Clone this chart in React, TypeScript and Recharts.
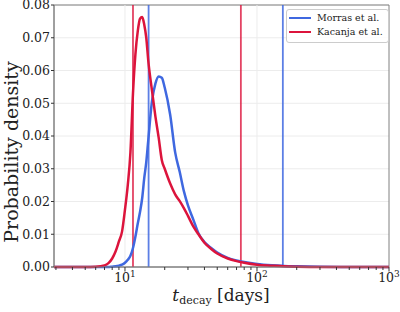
import React from "react";
import {
  LineChart,
  Line,
  XAxis,
  YAxis,
  CartesianGrid,
  ReferenceLine,
  ReferenceArea,
  Legend,
} from "recharts";

// decay time samples (days) and the two densities
const tDays = [
  2.9, 5, 6, 7, 7.5, 8, 8.5, 9, 9.5, 10, 10.5, 11, 11.5, 12, 12.5, 13, 13.5, 14,
  14.5, 15, 16, 17, 18, 19, 20, 22, 24, 26, 28, 30, 33, 36, 40, 45, 50, 60, 70,
  80, 100, 130, 160, 200, 300, 500, 1000,
];
const morras = [
  0, 0, 0, 0, 0, 0.0001, 0.0002, 0.0004, 0.0007, 0.0013, 0.0022, 0.0034, 0.0058,
  0.0093, 0.0133, 0.0168, 0.021, 0.0272, 0.032, 0.0385, 0.0505, 0.056, 0.0582,
  0.0578, 0.0548, 0.0465, 0.035, 0.029, 0.023, 0.0188, 0.0144, 0.0103, 0.0076,
  0.0058, 0.0044, 0.0028, 0.002, 0.0015, 0.0009, 0.0005, 0.0003, 0.0002, 0.0001,
  0.00002, 0,
];
const kacanja = [
  0, 0, 0.0001, 0.0005, 0.0012, 0.0026, 0.0048, 0.0078, 0.0108, 0.0175, 0.025,
  0.035, 0.053, 0.065, 0.072, 0.0758, 0.0763, 0.074, 0.07, 0.0632, 0.054, 0.046,
  0.0395, 0.0327, 0.03, 0.0255, 0.0222, 0.0201, 0.0179, 0.0156, 0.0123, 0.01,
  0.0074, 0.0055, 0.0041, 0.0026, 0.0018, 0.0013, 0.0007, 0.0004, 0.0002,
  0.0001, 0.00003, 0, 0,
];

// vertical interval markers
const morrasBounds = [15.1, 157];
const kacanjaBounds = [11.5, 75.5];

const xTicks = [
  3, 4, 5, 6, 7, 8, 9, 10, 20, 30, 40, 50, 60, 70, 80, 90, 100, 200, 300, 400,
  500, 600, 700, 800, 900, 1000,
];
const majorTicks = [10, 100, 1000];
const yTicks = [0, 0.01, 0.02, 0.03, 0.04, 0.05, 0.06, 0.07, 0.08];

const BLUE = "#3f68e0";
const RED = "#dc143c";
const FONT = "DejaVu Serif";

const data = tDays.map((t, i) => ({ t, morras: morras[i], kacanja: kacanja[i] }));

const XTick = (props: any) => {
  const { x, y, payload } = props;
  const v = payload.value;
  const major = majorTicks.includes(v);
  return (
    <g>
      <line x1={x} x2={x} y1={y} y2={y + (major ? 4.5 : 3)} stroke="#333" />
      {major && (
        <text x={x} y={y + 15} textAnchor="middle" fontFamily={FONT} fontSize={12.5} fill="#222">
          10
          <tspan dy={-5} fontSize={9}>
            {Math.round(Math.log10(v))}
          </tspan>
        </text>
      )}
    </g>
  );
};

const renderLegend = () => (
  <div
    style={{
      border: "1px solid #ccc",
      borderRadius: 3,
      background: "rgba(255,255,255,0.85)",
      padding: "1px 5px 3px 2px",
      fontFamily: FONT,
      fontSize: 9.5,
      color: "#222",
      lineHeight: "14px",
      whiteSpace: "nowrap",
    }}
  >
    {[
      { name: "Morras et al.", color: BLUE },
      { name: "Kacanja et al.", color: RED },
    ].map((e) => (
      <div key={e.name} style={{ display: "flex", alignItems: "center" }}>
        <span style={{ display: "inline-block", width: 22, height: 2.5, background: e.color, marginRight: 6 }} />
        {e.name}
      </div>
    ))}
  </div>
);

export default function App() {
  return (
    <div style={{ position: "absolute", left: 0, top: 0 }}>
      <LineChart width={400} height={312} data={data} margin={{ top: 5, right: 11, bottom: 0, left: 0 }}>
        <CartesianGrid vertical={false} stroke="#ececec" />
        <ReferenceLine x={10} stroke="#ececec" />
        <ReferenceLine x={100} stroke="#ececec" />
        <XAxis
          dataKey="t"
          type="number"
          scale="log"
          domain={[2.9, 1000]}
          allowDataOverflow
          ticks={xTicks}
          interval={0}
          tickSize={0}
          tickMargin={0}
          tickLine={false}
          tick={<XTick />}
          height={45}
          axisLine={{ stroke: "#808080" }}
          label={{
            content: () => (
              <text x={221} y={301} textAnchor="middle" fontFamily={FONT} fontSize={17} fill="#222">
                <tspan fontStyle="italic">t</tspan>
                <tspan dy={3} fontSize={11}>decay</tspan>
                <tspan dy={-3}> [days]</tspan>
              </text>
            ),
          }}
        />
        <YAxis
          type="number"
          domain={[0, 0.08]}
          ticks={yTicks}
          interval={0}
          width={54}
          tickSize={3}
          tickMargin={1}
          tickFormatter={(v: number) => v.toFixed(2)}
          tick={{ fontFamily: FONT, fontSize: 12.5, fill: "#222" }}
          tickLine={{ stroke: "#333" }}
          axisLine={{ stroke: "#808080" }}
          label={{
            content: () => (
              <text
                x={13}
                y={152}
                transform="rotate(-90 13 152)"
                textAnchor="middle"
                dominantBaseline="middle"
                fontFamily={FONT}
                fontSize={19}
                fill="#222"
              >
                Probability density
              </text>
            ),
          }}
        />
        <ReferenceArea x1={2.9} x2={1000} y1={0} y2={0.08} fill="none" stroke="#808080" />
        {morrasBounds.map((b) => (
          <ReferenceLine key={"m" + b} x={b} stroke={BLUE} strokeWidth={1.8} strokeOpacity={0.85} />
        ))}
        {kacanjaBounds.map((b) => (
          <ReferenceLine key={"k" + b} x={b} stroke={RED} strokeWidth={1.8} strokeOpacity={0.8} />
        ))}
        <Line
          type="monotone"
          dataKey="morras"
          stroke={BLUE}
          strokeWidth={2.5}
          dot={false}
          isAnimationActive={false}
        />
        <Line
          type="monotone"
          dataKey="kacanja"
          stroke={RED}
          strokeWidth={2.5}
          dot={false}
          isAnimationActive={false}
        />
        <Legend
          layout="vertical"
          align="center"
          verticalAlign="middle"
          content={renderLegend}
          wrapperStyle={{ position: "absolute", top: 9, left: 286, width: "auto" }}
        />
      </LineChart>
    </div>
  );
}
